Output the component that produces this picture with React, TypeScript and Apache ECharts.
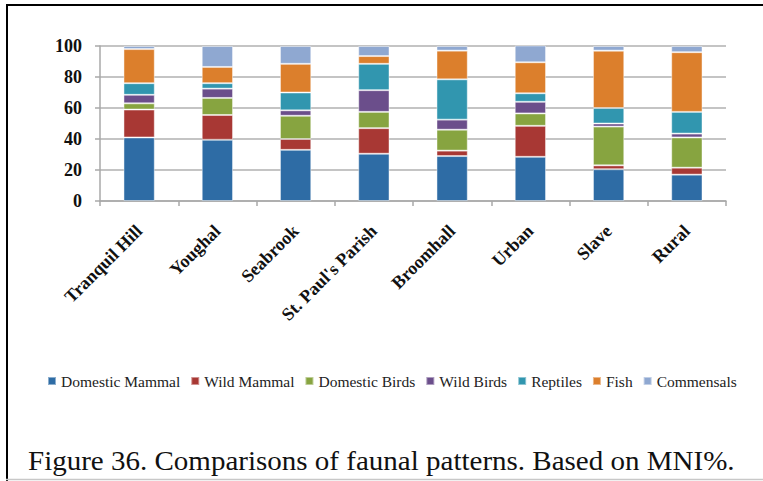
import React, { useEffect, useRef } from "react";
import * as echarts from "echarts";

const categories = ["Tranquil Hill", "Youghal", "Seabrook", "St. Paul's Parish", "Broomhall", "Urban", "Slave", "Rural"];
const seriesNames = ["Domestic Mammal", "Wild Mammal", "Domestic Birds", "Wild Birds", "Reptiles", "Fish", "Commensals"];
const domesticMammal = [41, 39.5, 33, 30.5, 29, 28.5, 20.5, 17];
const wildMammal = [18, 16, 7, 16.5, 3.5, 20, 2.5, 4.5];
const domesticBirds = [4, 11, 15, 10.5, 13.5, 8, 25, 19.5];
const wildBirds = [5.5, 6, 3.5, 14, 6.5, 7.5, 2, 2.5];
const reptiles = [7.5, 3.5, 11.5, 17, 26, 5.5, 10, 14];
const fish = [22, 10.5, 18.5, 5, 18.5, 20, 37, 38.5];
const commensals = [2, 13.5, 11.5, 6.5, 3, 11, 3, 4];
const yTicks = [0, 20, 40, 60, 80, 100];
const colors = ["#2E6CA5", "#A83834", "#87A440", "#6B4E8B", "#3196AF", "#DC7F2C", "#8FA8D1"];
const caption = "Figure 36. Comparisons of faunal patterns. Based on MNI%.";

const SERIF = "Liberation Serif";

export default function App() {
  const ref = useRef<HTMLDivElement>(null);
  useEffect(() => {
    if (!ref.current) return;
    const chart = echarts.init(ref.current, undefined, { renderer: "svg" });
    const values = [domesticMammal, wildMammal, domesticBirds, wildBirds, reptiles, fish, commensals];
    chart.setOption({
      animation: false,
      backgroundColor: "#fff",
      textStyle: { fontFamily: SERIF },
      grid: { left: 100, right: 37, top: 46, bottom: 280, containLabel: false },
      legend: {
        data: seriesNames,
        left: 47,
        top: 373,
        width: 716,
        padding: 0,
        itemWidth: 8,
        itemHeight: 8,
        itemGap: 10,
        icon: "rect",
        textStyle: { fontFamily: SERIF, fontSize: 15.5, color: "#222" },
      },
      xAxis: {
        type: "category",
        data: categories,
        axisLine: { lineStyle: { color: "#A8A8A8", width: 1.5 } },
        axisTick: { show: true, length: 5, lineStyle: { color: "#A8A8A8", width: 1.5 } },
        axisLabel: {
          rotate: 45,
          margin: 27,
          interval: 0,
          fontFamily: SERIF,
          fontWeight: "bold",
          fontSize: 18,
          color: "#111",
        },
      },
      yAxis: {
        type: "value",
        min: yTicks[0],
        max: yTicks[yTicks.length - 1],
        interval: 20,
        axisLine: { show: true, lineStyle: { color: "#A8A8A8", width: 1.5 } },
        axisTick: { show: true, length: 5, lineStyle: { color: "#A8A8A8", width: 1.5 } },
        splitLine: { lineStyle: { color: "#B0B0B0", width: 1.5 } },
        axisLabel: {
          margin: 18,
          fontFamily: SERIF,
          fontWeight: "bold",
          fontSize: 18,
          color: "#111",
        },
      },
      series: seriesNames.map((name, i) => ({
        name,
        type: "bar",
        stack: "total",
        data: values[i],
        barWidth: "40%",
        itemStyle: { color: colors[i], borderColor: "rgba(255,255,255,0.45)", borderWidth: 1 },
      })),
      graphic: [
        { type: "line", shape: { x1: 7, y1: 4, x2: 7, y2: 481 }, style: { stroke: "#000", lineWidth: 2 } },
        { type: "line", shape: { x1: 6, y1: 5, x2: 763, y2: 5 }, style: { stroke: "#000", lineWidth: 2 } },
        { type: "line", shape: { x1: 6, y1: 479.5, x2: 763, y2: 479.5 }, style: { stroke: "#C8C8C8", lineWidth: 1.5 } },
        {
          type: "text",
          x: 28,
          y: 461,
          scaleX: 1.075,
          style: { text: caption, font: "27px 'Liberation Serif'", fill: "#111", verticalAlign: "middle", align: "left" },
        },
      ],
    });
    return () => chart.dispose();
  }, []);
  return <div ref={ref} style={{ position: "fixed", left: 0, top: 0, width: 763, height: 481 }} />;
}
